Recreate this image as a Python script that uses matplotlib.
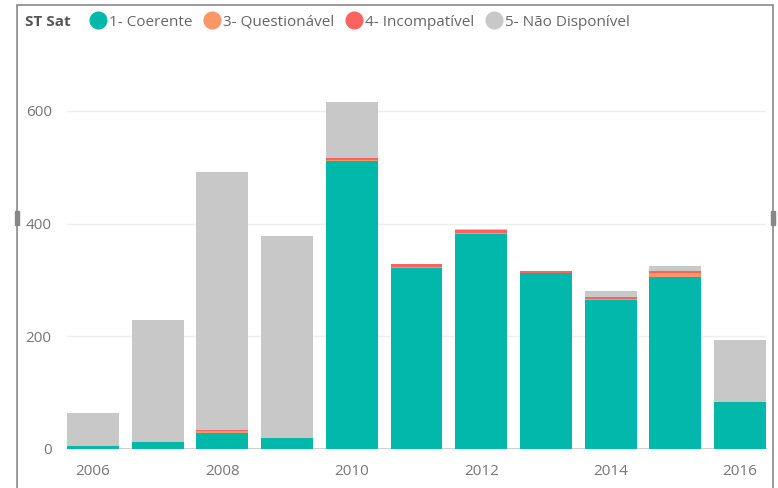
import matplotlib
matplotlib.use('Agg')
import matplotlib.pyplot as plt
from matplotlib.lines import Line2D
from matplotlib.patches import Rectangle
import numpy as np

plt.rcParams['font.family'] = ['Open Sans', 'DejaVu Sans']

# dados
anos = [2006, 2007, 2008, 2009, 2010, 2011, 2012, 2013, 2014, 2015, 2016]
coerente = [6, 12, 28, 19, 511, 321, 381, 312, 264, 305, 83]
questionavel = [0, 0, 4, 0, 1, 2, 3, 1, 2, 8, 0]
incompativel = [0, 0, 1, 0, 5, 5, 5, 3, 4, 2, 0]
nao_disp = [58, 217, 459, 359, 99, 0, 1, 0, 10, 10, 110]
rotulos = ['1- Coerente', '3- Questionável', '4- Incompatível', '5- Não Disponível']
cores = ['#01B8AA', '#FE9666', '#FD625E', '#C8C8C8']
yticks = [0, 200, 400, 600]

W, H = 778, 488
fig = plt.figure(figsize=(W/100, H/100), dpi=100)
ax = fig.add_axes([67/W, (H-449)/H, (766-67)/W, (449-50)/H])

x = np.arange(len(anos))
base = np.zeros(len(anos))
for serie, cor in zip([coerente, questionavel, incompativel, nao_disp], cores):
    ax.bar(x, serie, 0.8, bottom=base, color=cor, zorder=2)
    base = base + np.array(serie)

ax.set_xlim(-0.4, 10.4)
ax.set_ylim(0, 708)
ax.set_yticks(yticks)
ax.set_xticks(x[::2])
ax.set_xticklabels([str(a) for a in anos[::2]])
ax.tick_params(length=0, colors='#777777', labelsize=11)
ax.tick_params(axis='y', pad=11)
ax.tick_params(axis='x', pad=11)
for s in ax.spines.values():
    s.set_visible(False)
ax.axhline(0, color='#C8C8C8', lw=1.2, zorder=1)
for t in yticks[1:]:
    ax.axhline(t, color='#EEEEEE', lw=1, zorder=0)

# legenda
fig.text(25/W, 1-22/H, 'ST Sat', fontsize=11, fontweight='bold', color='#555555', va='center')
handles = [Line2D([], [], marker='o', ls='', ms=12, color=c) for c in cores]
fig.legend(handles, rotulos, loc='center left', bbox_to_anchor=(90/W, 1-22/H), ncol=4,
           frameon=False, handletextpad=0.15, columnspacing=0.75, handlelength=1.1,
           prop={'size': 11}, labelcolor='#666666', borderaxespad=0, borderpad=0)

# moldura
fig.patches.append(Rectangle((17/W, -0.05), (773-17)/W, 1.05-5/H, transform=fig.transFigure,
                             fill=False, ec='#8A8A8A', lw=1.2))
for xx in [15/W, 771/W]:
    fig.patches.append(Rectangle((xx, 1-225/H), 4/W, 14/H, transform=fig.transFigure,
                                 color='#888888'))

fig.savefig('out.png', dpi=100)
